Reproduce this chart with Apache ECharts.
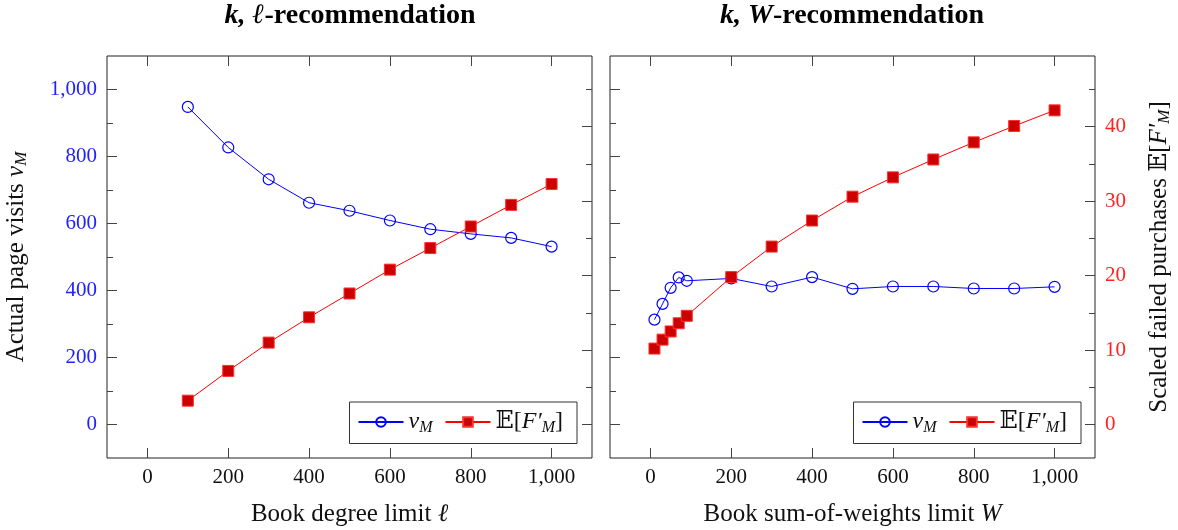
<!DOCTYPE html>
<html>
<head>
<meta charset="utf-8">
<script src="https://cdn.jsdelivr.net/npm/echarts@6/dist/echarts.min.js"></script>
<style>
  html, body { margin: 0; padding: 0; background: #fff; }
  #chart { width: 1178px; height: 530px; }
</style>
</head>
<body>
<div id="chart"></div>
<script>
// k,l-recommendation panel
const degreeLimits = [100, 200, 300, 400, 500, 600, 700, 800, 900, 1000];
const degreeVisits = [948, 827, 732, 662, 638, 609, 583, 569, 557, 531];
const degreeFailed = [3.2, 7.2, 11.0, 14.4, 17.6, 20.8, 23.7, 26.6, 29.5, 32.3];

// k,W-recommendation panel
const weightLimits = [10, 30, 50, 70, 90, 200, 300, 400, 500, 600, 700, 800, 900, 1000];
const weightVisits = [313, 360, 408, 439, 429, 436, 412, 440, 405, 412, 412, 406, 406, 411];
const weightFailed = [10.2, 11.4, 12.5, 13.6, 14.6, 19.8, 23.9, 27.4, 30.6, 33.2, 35.6, 37.9, 40.1, 42.2];

// ticks
const xTicks = [0, 200, 400, 600, 800, 1000];
const visitTicks = [0, 200, 400, 600, 800, 1000];
const visitMinorTicks = [100, 300, 500, 700, 900];
const failedTicks = [0, 10, 20, 30, 40];
const failedMinorTicks = [5, 15, 25, 35, 45];

const FONT = "'Liberation Serif', 'DejaVu Serif', serif";
const BLUE = "#0000ff";
const RED = "#ff0000";
const TICK = "#444";
const NAME_SIZE = 25;
const LEGEND_SIZE = 24;
const TICK_SIZE = 21;

function subRich(size) {
  return {
    i: { fontFamily: FONT, fontStyle: "italic", fontSize: size, color: "#111" },
    s: { fontFamily: FONT, fontStyle: "italic", fontSize: Math.round(size * 0.67), color: "#111", padding: [11, 0, 0, 0] },
  };
}

function pairs(xs, ys) {
  return xs.map((x, i) => [x, ys[i]]);
}

function fmt(v) {
  return v.toLocaleString("en-US");
}

function nameStyle() {
  return { fontFamily: FONT, fontSize: NAME_SIZE, color: "#111", rich: subRich(NAME_SIZE) };
}

function xAxes(grid, name) {
  const base = {
    type: "value",
    gridIndex: grid,
    min: -100,
    max: 1100,
    splitLine: { show: false },
    axisLine: { show: false, onZero: false },
    axisTick: { inside: true, length: 10, customValues: xTicks, lineStyle: { color: TICK } },
  };
  return [
    {
      ...base,
      position: "bottom",
      name,
      nameLocation: "middle",
      nameGap: 44,
      nameMoveOverlap: false,
      nameTextStyle: nameStyle(),
      axisLabel: { customValues: xTicks, formatter: fmt, margin: 9, fontFamily: FONT, fontSize: TICK_SIZE, color: "#111" },
    },
    { ...base, position: "top", axisLabel: { show: false } },
  ];
}

function yAxis(grid, position, range, ticks, length, label) {
  return {
    type: "value",
    gridIndex: grid,
    position,
    min: range[0],
    max: range[1],
    splitLine: { show: false },
    axisLine: { show: false, onZero: false },
    axisTick: { inside: true, length, customValues: ticks, lineStyle: { color: TICK } },
    axisLabel: label
      ? { customValues: ticks, formatter: fmt, margin: 10, fontFamily: FONT, fontSize: TICK_SIZE, color: label }
      : { show: false },
  };
}

const visitRange = [-100, 1100];
const failedRange = [-4.5, 49.5];

const yAxes = [
  // grid 0
  {
    ...yAxis(0, "left", visitRange, visitTicks, 10, "#2222ff"),
    name: "Actual page visits {i|v}{s|M}",
    nameLocation: "middle",
    nameGap: 77,
    nameMoveOverlap: false,
    nameTextStyle: nameStyle(),
  },
  yAxis(0, "left", visitRange, visitMinorTicks, 6, null),
  yAxis(0, "right", failedRange, failedTicks, 10, null),
  yAxis(0, "right", failedRange, failedMinorTicks, 6, null),
  // grid 1
  yAxis(1, "left", visitRange, visitTicks, 10, null),
  yAxis(1, "left", visitRange, visitMinorTicks, 6, null),
  {
    ...yAxis(1, "right", failedRange, failedTicks, 10, "#ff2222"),
    name: "Scaled failed purchases 𝔼[{i|F′}{s|M}]",
    nameLocation: "middle",
    nameGap: 50,
    nameMoveOverlap: false,
    nameTextStyle: nameStyle(),
  },
  yAxis(1, "right", failedRange, failedMinorTicks, 6, null),
];

function visitsSeries(xIdx, yIdx, data) {
  return {
    name: "vM",
    type: "line",
    xAxisIndex: xIdx,
    yAxisIndex: yIdx,
    data,
    symbol: "circle",
    symbolSize: 11,
    lineStyle: { color: BLUE, width: 1 },
    itemStyle: { color: "rgba(255,255,255,0)", borderColor: BLUE, borderWidth: 1.2 },
    emphasis: { disabled: true },
    z: 3,
  };
}

function failedSeries(xIdx, yIdx, data) {
  return {
    name: "EF",
    type: "line",
    xAxisIndex: xIdx,
    yAxisIndex: yIdx,
    data,
    symbol: "rect",
    symbolSize: 11,
    lineStyle: { color: RED, width: 1 },
    itemStyle: { color: "#cc0000", borderColor: "#ff3030", borderWidth: 1 },
    emphasis: { disabled: true },
    z: 4,
  };
}

function legend(right) {
  return {
    right,
    top: 402,
    orient: "horizontal",
    data: ["vM", "EF"],
    selectedMode: false,
    padding: [8, 14, 8, 8],
    itemWidth: 45,
    itemHeight: 12,
    itemGap: 12,
    borderColor: "#333",
    borderWidth: 1,
    backgroundColor: "#fff",
    formatter(name) {
      return name === "vM" ? "{i|v}{s|M}" : "𝔼[{i|F′}{s|M}]";
    },
    textStyle: { fontFamily: FONT, fontSize: LEGEND_SIZE, color: "#111", rich: subRich(LEGEND_SIZE) },
  };
}

function title(x, mathPart) {
  return {
    type: "text",
    x,
    y: 16,
    style: {
      text: `{bi|${mathPart}}{b|-recommendation}`,
      align: "center",
      verticalAlign: "middle",
      rich: {
        bi: { fontFamily: FONT, fontWeight: "bold", fontStyle: "italic", fontSize: 28, fill: "#000" },
        b: { fontFamily: FONT, fontWeight: "bold", fontSize: 28, fill: "#000" },
      },
    },
  };
}

const chart = echarts.init(document.getElementById("chart"), null, { renderer: "canvas" });
chart.setOption({
  animation: false,
  backgroundColor: "#fff",
  grid: [
    { left: 107, top: 56, width: 485, height: 402, show: true, borderColor: "#222", borderWidth: 1, outerBoundsMode: "none" },
    { left: 610, top: 56, width: 485, height: 402, show: true, borderColor: "#222", borderWidth: 1, outerBoundsMode: "none" },
  ],
  xAxis: [...xAxes(0, "Book degree limit {i|ℓ}"), ...xAxes(1, "Book sum-of-weights limit {i|W}")],
  yAxis: yAxes,
  legend: [legend(601), legend(97)],
  graphic: [title(350, "k, ℓ"), title(852, "k, W")],
  series: [
    visitsSeries(0, 0, pairs(degreeLimits, degreeVisits)),
    failedSeries(0, 2, pairs(degreeLimits, degreeFailed)),
    visitsSeries(2, 4, pairs(weightLimits, weightVisits)),
    failedSeries(2, 6, pairs(weightLimits, weightFailed)),
  ],
});
</script>
</body>
</html>
